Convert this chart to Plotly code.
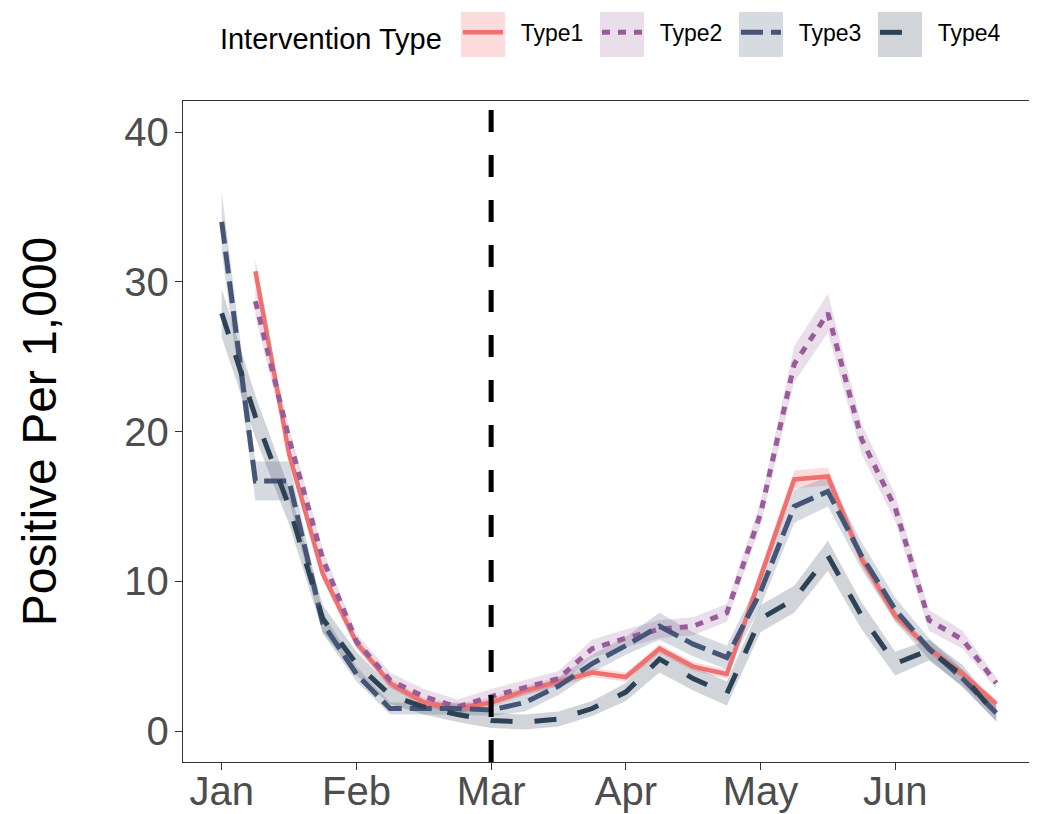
import plotly.graph_objects as go

# ---- data (weekly points, 4 per month; index 0 = start of Jan) ----
week_index = list(range(24))
month_ticks = [0, 4, 8, 12, 16, 20]
month_labels = ["Jan", "Feb", "Mar", "Apr", "May", "Jun"]
intervention_week = 8

type_names = ["Type1", "Type2", "Type3", "Type4"]

type1 = [None, 30.7, 18.5, 10.5, 5.9, 3.2, 1.9, 1.5, 1.9, 2.7, 3.3, 3.9, 3.6, 5.5,
         4.3, 3.8, 10.3, 16.8, 17.0, 11.5, 7.7, 5.5, 3.8, 1.8]
type1_ci = [None, 0.8, 0.4, 0.4, 0.3, 0.3, 0.3, 0.3, 0.3, 0.3, 0.3, 0.3, 0.3, 0.3,
            0.3, 0.3, 0.5, 0.6, 0.6, 0.5, 0.4, 0.3, 0.3, 0.3]

type2 = [None, 28.7, 19.5, 11.5, 6.0, 3.4, 2.3, 1.6, 2.3, 2.9, 3.5, 5.5, 6.2, 6.8,
         7.0, 7.9, 14.5, 24.5, 27.9, 19.5, 14.9, 7.4, 6.1, 3.2]
type2_ci = [None, 1.0, 0.8, 0.6, 0.5, 0.5, 0.5, 0.5, 0.5, 0.5, 0.5, 0.6, 0.6, 0.6,
            0.6, 0.6, 0.8, 1.2, 1.3, 1.0, 0.9, 0.7, 0.6, 0.4]

type3 = [34.0, 16.7, 16.7, 7.2, 3.8, 1.5, 1.5, 1.5, 1.4, 1.9, 3.0, 4.5, 5.7, 7.0,
         5.8, 4.9, 9.3, 15.0, 16.0, 11.7, 8.1, 5.5, 3.5, 1.2]
type3_ci = [2.0, 1.3, 1.3, 0.7, 0.5, 0.4, 0.4, 0.4, 0.4, 0.6, 0.6, 0.6, 0.6, 0.9,
            0.8, 0.8, 1.0, 1.1, 1.0, 0.9, 0.8, 0.7, 0.6, 0.5]

type4 = [27.9, 21.0, 15.0, 7.5, 4.5, 2.4, 1.6, 1.1, 0.7, 0.6, 0.8, 1.5, 2.6, 4.8,
         3.5, 2.5, 7.5, 8.8, 11.7, 7.7, 4.5, 5.4, 3.7, 1.1]
type4_ci = [1.6, 1.4, 1.2, 0.9, 0.8, 0.6, 0.5, 0.5, 0.5, 0.5, 0.5, 0.5, 0.6, 0.9,
            0.8, 0.8, 0.9, 0.9, 1.0, 0.9, 0.8, 0.7, 0.7, 0.5]

# ---- styles ----
line_colors = ["#F07070", "#995B99", "#445577", "#2C4257"]
fill_colors = ["rgba(240,112,112,0.25)", "rgba(153,91,153,0.20)",
               "rgba(68,85,119,0.22)", "rgba(44,66,87,0.22)"]
dashes = ["solid", "8px,8px", "22px,8px", "22px,22px"]
widths = [4.5, 5, 5, 5]

series = [type1, type2, type3, type4]
cis = [type1_ci, type2_ci, type3_ci, type4_ci]

fig = go.Figure()

# ribbons first
for name, vals, ci, fc in zip(type_names, series, cis, fill_colors):
    xs = [x for x, v in zip(week_index, vals) if v is not None]
    lo = [v - c for v, c in zip(vals, ci) if v is not None]
    hi = [v + c for v, c in zip(vals, ci) if v is not None]
    fig.add_trace(go.Scatter(x=xs, y=lo, mode="lines", line=dict(width=0),
                             showlegend=False, hoverinfo="skip"))
    fig.add_trace(go.Scatter(x=xs, y=hi, mode="lines", line=dict(width=0),
                             fill="tonexty", fillcolor=fc,
                             showlegend=False, hoverinfo="skip"))

# lines
for name, vals, lc, dsh, w in zip(type_names, series, line_colors, dashes, widths):
    xs = [x for x, v in zip(week_index, vals) if v is not None]
    ys = [v for v in vals if v is not None]
    fig.add_trace(go.Scatter(x=xs, y=ys, mode="lines", name="\u00a0\u00a0" + name,
                             line=dict(color=lc, width=w, dash=dsh)))

fig.add_vline(x=intervention_week, line=dict(color="black", width=5, dash="22px,23px"))

# legend key backgrounds (ribbon-coloured boxes behind each legend line)
fig_w, fig_h = 1029, 806
m_l, m_r, m_t, m_b = 175, 2, 93, 52
plot_w = fig_w - m_l - m_r
plot_h = fig_h - m_t - m_b
key_left_px = [453, 592, 731, 870]   # left edge of each key box, figure px
key_w_px, key_top_px, key_bot_px = 44, 4, 49
for kx, fc in zip(key_left_px, fill_colors):
    fig.add_shape(type="rect", xref="paper", yref="paper",
                  x0=(kx - m_l) / plot_w, x1=(kx + key_w_px - m_l) / plot_w,
                  y0=1 + (m_t - key_bot_px) / plot_h, y1=1 + (m_t - key_top_px) / plot_h,
                  fillcolor=fc, line=dict(width=0), layer="below")

axis_common = dict(
    showgrid=False, zeroline=False, automargin=False,
    showline=True, linecolor="#333333", linewidth=1.3, mirror=True,
    ticks="outside", ticklen=7, tickwidth=1.3, tickcolor="#333333",
    tickfont=dict(family="Liberation Sans, Arial", size=40, color="#4D4D4D"),
)

# the page body adds an 8px offset, so the figure is sized/margined to compensate
fig.update_layout(
    width=fig_w, height=fig_h,
    paper_bgcolor="white", plot_bgcolor="white",
    margin=dict(l=m_l, r=m_r, t=m_t, b=m_b, autoexpand=False),
    font=dict(family="Liberation Sans, Arial", color="black"),
    xaxis=dict(range=[-1.15, 24.15], tickvals=month_ticks, ticktext=month_labels,
               ticklabelstandoff=-13, **axis_common),
    yaxis=dict(range=[-2.07, 42.07], tickvals=[0, 10, 20, 30, 40],
               ticklabelstandoff=-2,
               title=dict(text="Positive Per 1,000", standoff=52,
                          font=dict(size=48, color="black")),
               **axis_common),
    legend=dict(orientation="h", x=0.041, xanchor="left", y=1.100, yanchor="middle",
                traceorder="normal",
                title=dict(text="Intervention Type ", side="left",
                           font=dict(size=29, color="black")),
                font=dict(size=23, color="black"),
                entrywidth=84, itemwidth=40, bgcolor="rgba(0,0,0,0)"),
)

fig.write_html("out.html")
